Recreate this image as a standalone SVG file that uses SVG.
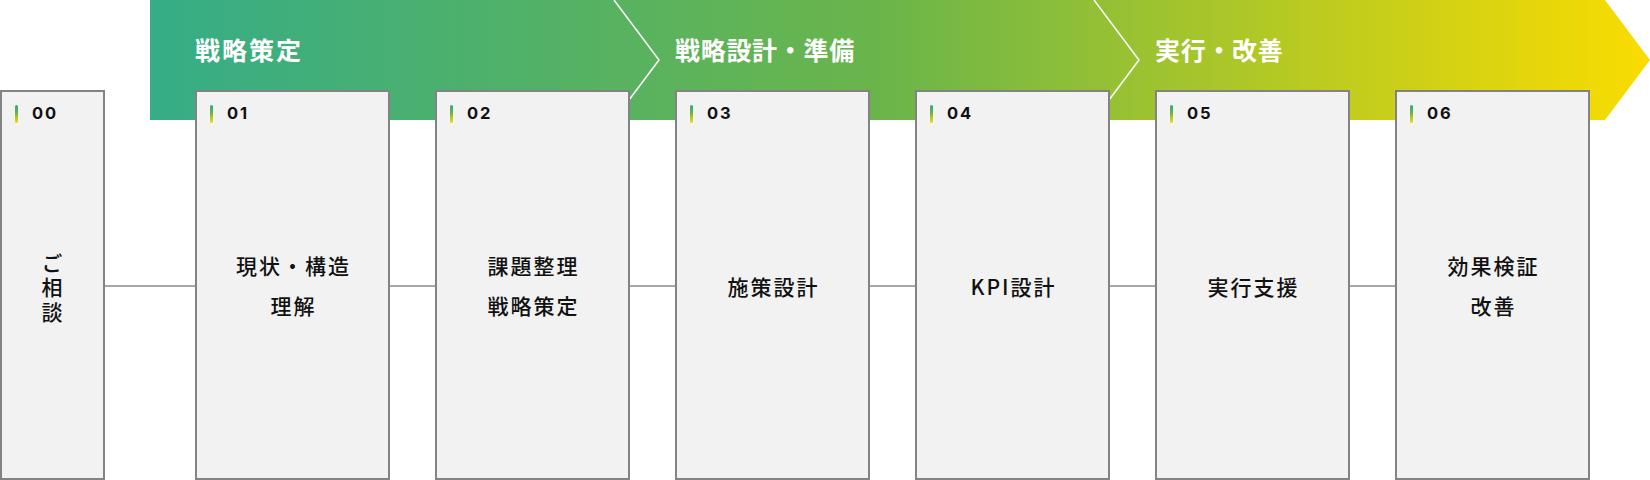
<svg xmlns="http://www.w3.org/2000/svg" width="1650" height="480" viewBox="0 0 1650 480">
<defs>
<linearGradient id="band" gradientUnits="userSpaceOnUse" x1="150" y1="0" x2="1650" y2="0">
<stop offset="0" stop-color="#36ad87"/>
<stop offset="0.49" stop-color="#6bb54a"/>
<stop offset="1" stop-color="#fadc00"/>
</linearGradient>
<linearGradient id="bar" x1="0" y1="0" x2="0" y2="1">
<stop offset="0" stop-color="#2ba77e"/>
<stop offset="0.45" stop-color="#6cb548"/>
<stop offset="1" stop-color="#fadc00"/>
</linearGradient>
<style>
.box{fill:#f2f2f2;stroke:#838383;stroke-width:2}
.num{font-family:Inter,"Noto Sans",sans-serif;font-weight:700;font-size:16.5px;fill:#111;letter-spacing:1.8px}
.lbl{font-family:"Noto Sans CJK JP",sans-serif;font-weight:500;font-size:21px;fill:#111;text-anchor:middle;letter-spacing:2px}
.vlbl{font-family:"Noto Sans CJK JP",sans-serif;font-weight:500;font-size:21px;fill:#111;text-anchor:middle;writing-mode:vertical-rl;letter-spacing:3.5px}
.ttl{font-family:"Noto Sans CJK JP",sans-serif;font-weight:700;font-size:25px;fill:#fff;letter-spacing:2px}
.ttl2{letter-spacing:0.7px}
.chev{fill:none;stroke:#fff;stroke-width:1.5}
.conn{stroke:#8a8a8a;stroke-width:1.5}
</style>
</defs>
<g id="banner">
<polygon points="150,0 1605,0 1650,60 1605,120 150,120" fill="url(#band)"/>
<polyline class="chev" points="614,0 659,60 614,120"/>
<polyline class="chev" points="1094,0 1139,60 1094,120"/>
<text class="ttl" x="195" y="60">戦略策定</text>
<text class="ttl ttl2" x="675" y="60">戦略設計・準備</text>
<text class="ttl ttl2" x="1155" y="60">実行・改善</text>
</g>
<g id="connectors">
<line class="conn" x1="105" y1="286" x2="195" y2="286"/>
<line class="conn" x1="390" y1="286" x2="435" y2="286"/>
<line class="conn" x1="630" y1="286" x2="675" y2="286"/>
<line class="conn" x1="870" y1="286" x2="915" y2="286"/>
<line class="conn" x1="1110" y1="286" x2="1155" y2="286"/>
<line class="conn" x1="1350" y1="286" x2="1395" y2="286"/>
</g>
<g id="step00">
<rect class="box" x="1" y="91" width="103" height="388"/>
<rect x="15" y="105" width="3" height="18" rx="1.5" fill="url(#bar)"/>
<text class="num" x="32" y="119">00</text>
<text class="vlbl" x="52" y="289">ご相談</text>
</g>
<g id="step01">
<rect class="box" x="196" y="91" width="193" height="388"/>
<rect x="210" y="105" width="3" height="18" rx="1.5" fill="url(#bar)"/>
<text class="num" x="227" y="119">01</text>
<text class="lbl" x="293.5" y="274">現状・構造</text>
<text class="lbl" x="293.5" y="314">理解</text>
</g>
<g id="step02">
<rect class="box" x="436" y="91" width="193" height="388"/>
<rect x="450" y="105" width="3" height="18" rx="1.5" fill="url(#bar)"/>
<text class="num" x="467" y="119">02</text>
<text class="lbl" x="533.5" y="274">課題整理</text>
<text class="lbl" x="533.5" y="314">戦略策定</text>
</g>
<g id="step03">
<rect class="box" x="676" y="91" width="193" height="388"/>
<rect x="690" y="105" width="3" height="18" rx="1.5" fill="url(#bar)"/>
<text class="num" x="707" y="119">03</text>
<text class="lbl" x="773.5" y="295">施策設計</text>
</g>
<g id="step04">
<rect class="box" x="916" y="91" width="193" height="388"/>
<rect x="930" y="105" width="3" height="18" rx="1.5" fill="url(#bar)"/>
<text class="num" x="947" y="119">04</text>
<text class="lbl" x="1013.5" y="295">KPI設計</text>
</g>
<g id="step05">
<rect class="box" x="1156" y="91" width="193" height="388"/>
<rect x="1170" y="105" width="3" height="18" rx="1.5" fill="url(#bar)"/>
<text class="num" x="1187" y="119">05</text>
<text class="lbl" x="1253.5" y="295">実行支援</text>
</g>
<g id="step06">
<rect class="box" x="1396" y="91" width="193" height="388"/>
<rect x="1410" y="105" width="3" height="18" rx="1.5" fill="url(#bar)"/>
<text class="num" x="1427" y="119">06</text>
<text class="lbl" x="1493.5" y="274">効果検証</text>
<text class="lbl" x="1493.5" y="314">改善</text>
</g>
</svg>
